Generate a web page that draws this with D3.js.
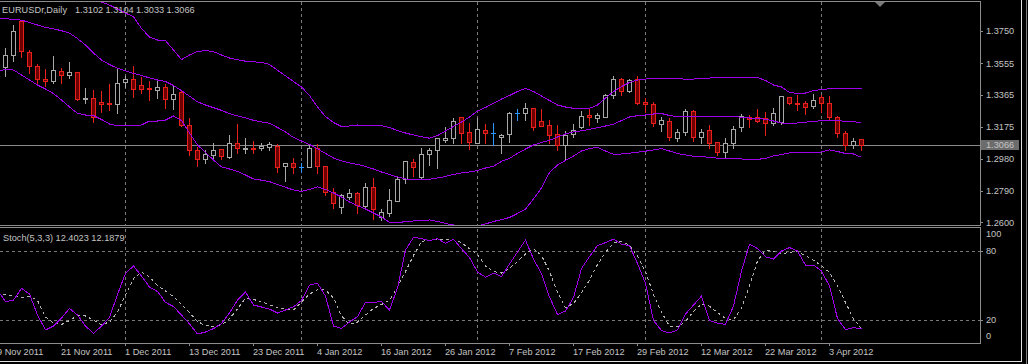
<!DOCTYPE html>
<html>
<head>
<meta charset="utf-8">
<script src="https://cdn.jsdelivr.net/npm/d3@7"></script>
<style>
  html, body { margin: 0; padding: 0; background: #000; }
  svg { display: block; }
  text { font-family: "Liberation Sans", Arial, sans-serif; font-size: 9.2px; fill: #c4c4c4; white-space: pre; }
</style>
</head>
<body>
<div id="chart"></div>
<script>
// trading days (9 Nov 2011 .. 9 Apr 2012)
let dates = ['2011-11-09','2011-11-10','2011-11-11','2011-11-14','2011-11-15','2011-11-16','2011-11-17','2011-11-18','2011-11-21','2011-11-22','2011-11-23','2011-11-24','2011-11-25','2011-11-28','2011-11-29','2011-11-30',
  '2011-12-01','2011-12-02','2011-12-05','2011-12-06','2011-12-07','2011-12-08','2011-12-09','2011-12-12','2011-12-13','2011-12-14','2011-12-15','2011-12-16','2011-12-19','2011-12-20','2011-12-21','2011-12-22','2011-12-23','2011-12-26','2011-12-27','2011-12-28','2011-12-29','2011-12-30',
  '2012-01-02','2012-01-03','2012-01-04','2012-01-05','2012-01-06','2012-01-09','2012-01-10','2012-01-11','2012-01-12','2012-01-13','2012-01-16','2012-01-17','2012-01-18','2012-01-19','2012-01-20','2012-01-23','2012-01-24','2012-01-25','2012-01-26','2012-01-27','2012-01-30','2012-01-31',
  '2012-02-01','2012-02-02','2012-02-03','2012-02-06','2012-02-07','2012-02-08','2012-02-09','2012-02-10','2012-02-13','2012-02-14','2012-02-15','2012-02-16','2012-02-17','2012-02-20','2012-02-21','2012-02-22','2012-02-23','2012-02-24','2012-02-27','2012-02-28','2012-02-29',
  '2012-03-01','2012-03-02','2012-03-05','2012-03-06','2012-03-07','2012-03-08','2012-03-09','2012-03-12','2012-03-13','2012-03-14','2012-03-15','2012-03-16','2012-03-19','2012-03-20','2012-03-21','2012-03-22','2012-03-23','2012-03-26','2012-03-27','2012-03-28','2012-03-29','2012-03-30',
  '2012-04-02','2012-04-03','2012-04-04','2012-04-05','2012-04-06','2012-04-09'];

// OHLC (first day is off the left edge, not drawn)
let open = [null,
  1.3534,1.3604,1.3810,1.3624,1.3538,1.3458,1.3450,1.3508,1.3484,1.3504,1.3338,1.3344,1.3324,1.3318,1.3310,1.3442,1.3458,1.3424,1.3406,1.3394,
  1.3410,1.3338,1.3384,1.3184,1.3034,1.2978,1.3004,1.3038,1.2990,1.3074,1.3044,1.3048,1.3044,1.3050,1.3060,1.2938,1.2954,1.2930,1.2930,1.3044,
  1.2938,1.2784,1.2690,1.2754,1.2774,1.2698,1.2810,1.2630,1.2658,1.2730,1.2860,1.2960,1.2874,1.3008,1.3034,1.3094,1.3104,1.3230,1.3140,1.3078,
  1.3154,1.3138,1.3110,1.3130,1.3254,1.3254,1.3284,1.3208,1.3184,1.3130,1.3064,1.3130,1.3174,1.3244,1.3224,1.3234,1.3364,1.3458,1.3390,1.3458,
  1.3324,1.3308,1.3190,1.3210,1.3104,1.3144,1.3270,1.3110,1.3154,1.3080,1.3024,1.3074,1.3170,1.3230,1.3230,1.3224,1.3194,1.3204,1.3354,1.3318,
  1.3314,1.3298,1.3354,1.3314,1.3234,1.3134,1.3064,1.3102];
let high = [null,
  1.3654,1.3790,1.3814,1.3638,1.3558,1.3524,1.3604,1.3534,1.3568,1.3508,1.3410,1.3398,1.3394,1.3438,1.3524,1.3484,1.3544,1.3478,1.3454,1.3454,
  1.3438,1.3424,1.3398,1.3230,1.3058,1.3038,1.3080,1.3044,1.3130,1.3194,1.3114,1.3094,1.3080,1.3088,1.3074,1.2964,1.2994,1.2964,1.3074,1.3074,
  1.2944,1.2810,1.2778,1.2804,1.2788,1.2844,1.2870,1.2684,1.2804,1.2878,1.2970,1.2984,1.3054,1.3054,1.3114,1.3178,1.3234,1.3238,1.3204,1.3234,
  1.3194,1.3200,1.3138,1.3270,1.3284,1.3324,1.3286,1.3284,1.3218,1.3190,1.3154,1.3194,1.3274,1.3290,1.3264,1.3374,1.3484,1.3474,1.3464,1.3484,
  1.3354,1.3330,1.3238,1.3230,1.3164,1.3284,1.3278,1.3164,1.3190,1.3084,1.3114,1.3184,1.3254,1.3250,1.3284,1.3270,1.3290,1.3364,1.3360,1.3368,
  1.3334,1.3374,1.3368,1.3364,1.3244,1.3154,1.3114,1.3104];
let low = [null,
  1.3478,1.3568,1.3590,1.3494,1.3424,1.3418,1.3434,1.3434,1.3464,1.3334,1.3314,1.3204,1.3262,1.3274,1.3256,1.3410,1.3354,1.3374,1.3334,1.3344,
  1.3284,1.3278,1.3178,1.3004,1.2938,1.2954,1.2984,1.2978,1.2986,1.3018,1.3014,1.3018,1.3034,1.3034,1.2904,1.2850,1.2898,1.2904,1.2930,1.2894,
  1.2764,1.2688,1.2658,1.2738,1.2654,1.2690,1.2618,1.2614,1.2638,1.2730,1.2838,1.2878,1.2868,1.2944,1.2924,1.3084,1.3074,1.3074,1.3038,1.3074,
  1.3078,1.3064,1.3018,1.3084,1.3214,1.3214,1.3154,1.3178,1.3074,1.3034,1.2974,1.3114,1.3164,1.3184,1.3204,1.3232,1.3344,1.3364,1.3384,1.3310,
  1.3264,1.3178,1.3150,1.3094,1.3090,1.3124,1.3090,1.3074,1.3044,1.3004,1.2994,1.3044,1.3150,1.3174,1.3202,1.3124,1.3184,1.3190,1.3310,1.3274,
  1.3250,1.3284,1.3264,1.3220,1.3114,1.3034,1.3044,1.3033];
let close = [null,
  1.3604,1.3750,1.3630,1.3538,1.3458,1.3450,1.3514,1.3484,1.3502,1.3338,1.3344,1.3232,1.3310,1.3310,1.3438,1.3458,1.3398,1.3398,1.3400,1.3410,
  1.3338,1.3368,1.3184,1.3034,1.2978,1.3008,1.3034,1.2998,1.3074,1.3044,1.3046,1.3042,1.3060,1.3070,1.2934,1.2954,1.2934,1.2930,1.3044,1.2938,
  1.2784,1.2714,1.2764,1.2774,1.2704,1.2810,1.2678,1.2660,1.2734,1.2860,1.2968,1.2930,1.3010,1.3034,1.3104,1.3104,1.3210,1.3138,1.3084,1.3158,
  1.3138,1.3138,1.3124,1.3254,1.3254,1.3284,1.3170,1.3180,1.3124,1.3064,1.3124,1.3154,1.3238,1.3230,1.3244,1.3364,1.3458,1.3390,1.3454,1.3318,
  1.3308,1.3198,1.3214,1.3110,1.3144,1.3270,1.3110,1.3144,1.3078,1.3024,1.3074,1.3158,1.3238,1.3218,1.3210,1.3194,1.3258,1.3358,1.3314,1.3310,
  1.3294,1.3334,1.3314,1.3230,1.3134,1.3064,1.3090,1.3066];

// Bollinger bands
let bbUpper = [1.4132,1.4120,1.4108,1.4096,1.4084,1.4066,1.4048,1.4030,1.4012,1.3994,1.3976,
  1.3958,1.3940,1.3922,1.3904,1.3880,1.3856,1.3834,1.3763,1.3712,1.3694,
  1.3690,1.3634,1.3577,1.3604,1.3625,1.3631,1.3624,1.3604,1.3586,1.3576,
  1.3567,1.3563,1.3560,1.3547,1.3513,1.3479,1.3445,1.3412,1.3361,1.3292,
  1.3235,1.3199,1.3175,1.3178,1.3184,1.3182,1.3181,1.3180,1.3169,1.3151,
  1.3136,1.3124,1.3113,1.3105,1.3121,1.3148,1.3175,1.3202,1.3232,1.3268,
  1.3289,1.3314,1.3340,1.3361,1.3385,1.3404,1.3385,1.3358,1.3331,1.3304,
  1.3292,1.3284,1.3284,1.3284,1.3304,1.3346,1.3384,1.3415,1.3439,1.3454,
  1.3460,1.3463,1.3464,1.3464,1.3464,1.3458,1.3460,1.3463,1.3466,1.3468,
  1.3468,1.3469,1.3470,1.3470,1.3469,1.3451,1.3424,1.3412,1.3379,1.3374,
  1.3376,1.3390,1.3398,1.3401,1.3403,1.3404,1.3404,1.3404];
let bbMiddle = [1.3826,1.3822,1.3818,1.3813,1.3800,1.3784,1.3770,1.3761,1.3750,1.3735,1.3703,
  1.3664,1.3616,1.3574,1.3547,1.3524,1.3509,1.3494,1.3481,1.3467,1.3454,
  1.3445,1.3421,1.3390,1.3357,1.3323,1.3304,1.3288,1.3272,1.3252,1.3239,
  1.3227,1.3212,1.3203,1.3194,1.3169,1.3142,1.3109,1.3088,1.3067,1.3042,
  1.3013,1.2986,1.2968,1.2956,1.2947,1.2935,1.2920,1.2902,1.2887,1.2872,
  1.2860,1.2858,1.2858,1.2858,1.2866,1.2875,1.2887,1.2896,1.2902,1.2910,
  1.2926,1.2936,1.2966,1.2983,1.3014,1.3040,1.3064,1.3079,1.3092,1.3112,
  1.3130,1.3142,1.3149,1.3158,1.3168,1.3178,1.3189,1.3211,1.3232,1.3240,
  1.3244,1.3250,1.3253,1.3241,1.3234,1.3234,1.3234,1.3234,1.3234,1.3234,
  1.3234,1.3234,1.3231,1.3226,1.3224,1.3218,1.3208,1.3196,1.3194,1.3196,
  1.3201,1.3205,1.3210,1.3214,1.3211,1.3206,1.3203,1.3200];
let bbLower = [1.3508,1.3517,1.3514,1.3484,1.3454,1.3424,1.3400,1.3373,1.3334,1.3292,1.3254,
  1.3244,1.3241,1.3217,1.3190,1.3180,1.3181,1.3182,1.3184,1.3208,1.3208,
  1.3214,1.3238,1.3211,1.3136,1.3064,1.3019,1.2974,1.2932,1.2920,1.2905,
  1.2884,1.2860,1.2853,1.2844,1.2827,1.2810,1.2794,1.2785,1.2797,1.2813,
  1.2797,1.2776,1.2752,1.2722,1.2700,1.2680,1.2656,1.2632,1.2599,1.2598,
  1.2604,1.2608,1.2611,1.2614,1.2605,1.2593,1.2584,1.2578,1.2575,1.2578,
  1.2590,1.2605,1.2616,1.2629,1.2653,1.2680,1.2740,1.2806,1.2899,1.2944,
  1.2971,1.2998,1.3028,1.3043,1.3049,1.3028,1.3008,1.3010,1.3015,1.3021,
  1.3027,1.3034,1.3043,1.3028,1.3013,1.3004,1.2996,1.2994,1.2990,1.2985,
  1.2983,1.2982,1.2980,1.2978,1.2978,1.2983,1.2998,1.3007,1.3017,1.3018,
  1.3020,1.3020,1.3022,1.3034,1.3025,1.3013,1.3010,1.2990];

// Stochastic (5,3,3)
let stochK = [45.9,35.8,37.2,47.4,42.4,24.2,11.3,14.7,21.6,30.0,24.2,
  14.7,8.4,14.7,22.1,42.0,60.3,66.7,58.0,48.5,44.6,
  35.2,31.6,24.2,16.5,7.8,9.5,12.5,16.9,26.0,37.2,
  44.2,32.9,31.2,29.4,26.0,28.6,31.4,36.8,50.2,51.7,
  40.7,14.7,12.7,18.2,22.9,35.2,35.2,35.9,28.6,47.6,
  80.5,91.5,90.5,88.7,90.5,86.3,89.8,81.8,74.0,61.5,
  57.1,60.6,57.6,68.4,78.8,89.2,72.7,60.2,39.8,24.7,
  27.7,39.4,64.5,74.9,84.4,87.0,90.0,85.7,84.4,68.8,
  51.7,19.5,10.8,8.7,11.3,25.1,32.9,40.7,19.5,17.1,
  16.2,32.0,62.3,85.7,81.8,74.7,72.7,79.7,82.7,79.7,
  67.5,67.5,62.3,49.4,21.2,11.7,13.2,12.4023];
let stochD = [43.3,42.0,40.7,39.4,40.7,36.8,22.5,17.3,16.0,19.5,23.8,
  23.4,19.9,15.8,18.2,26.8,41.6,55.8,61.7,57.1,50.0,
  45.0,40.3,33.3,26.4,18.6,15.1,14.1,15.4,21.2,29.4,
  39.0,37.7,35.9,32.9,30.7,29.4,28.6,35.5,42.4,46.3,
  45.9,39.0,23.4,16.0,18.2,24.2,29.9,33.3,37.0,48.5,
  61.9,75.8,87.9,89.2,89.5,90.0,89.5,87.0,81.6,76.6,
  66.7,61.9,60.6,64.9,70.6,77.1,81.8,75.8,61.9,43.7,
  30.7,34.2,43.3,54.5,68.0,78.4,87.0,88.1,84.8,75.3,
  61.9,42.0,26.8,14.7,14.0,18.6,27.3,33.8,31.9,26.4,
  21.2,20.3,30.3,49.4,71.0,80.5,79.4,76.9,78.8,79.0,
  75.8,71.6,67.2,61.0,49.4,35.1,21.0,12.1879];

// axis labels
let priceTicks = [1.3750, 1.3555, 1.3365, 1.3175, 1.2980, 1.2790, 1.2600];
let stochTicks = [100, 80, 20, 0];
let dateTicks = ['2011-11-09','2011-11-21','2011-12-01','2011-12-13','2011-12-23','2012-01-04','2012-01-16','2012-01-26','2012-02-07','2012-02-17','2012-02-29','2012-03-12','2012-03-22','2012-04-03'];
let monthStarts = ['2011-12-01','2012-01-02','2012-02-01','2012-03-01','2012-04-02'];
let headerValues = ['1.3102', '1.3104', '1.3033', '1.3066'];
let bid = 1.3066;

// sizes
let svg_width = 1028;
let svg_height = 364;
let plot_right = 980;
let main_top = 1, main_bottom = 225;
let sub_top = 228, sub_bottom = 343;

let gray = '#8c8c8c';
let purple = '#9d00e8';
let bullColor = '#a8a8a8';
let bearColor = '#e8201c';
let bearFill = '#6e0000';
let dojiColor = '#2a96ff';

let svg = d3.select('#chart').append('svg')
  .attr('width', svg_width)
  .attr('height', svg_height);

svg.append('rect').attr('width', svg_width).attr('height', svg_height).attr('fill', '#000');

// scales
let x = d3.scalePoint().domain(dates).range([-3, -3 + 8 * (dates.length - 1)]);
let y = d3.scaleLinear().domain([1.2600, 1.3750]).range([222.3, 30.7]);
let ys = d3.scaleLinear().domain([0, 100]).range([sub_bottom, 227.6]);
let snap = v => Math.round(v) + 0.5;

let defs = svg.append('defs');
defs.append('clipPath').attr('id', 'clipMain')
  .append('rect').attr('x', 0).attr('y', main_top + 1).attr('width', plot_right).attr('height', main_bottom - main_top - 1);
defs.append('clipPath').attr('id', 'clipSub')
  .append('rect').attr('x', 0).attr('y', sub_top + 1).attr('width', plot_right).attr('height', sub_bottom - sub_top - 1);

// month grid lines (both panels)
let grid = svg.append('g').attr('stroke', '#7a7a7a').attr('stroke-dasharray', '3,3').attr('shape-rendering', 'crispEdges');
monthStarts.forEach(d => {
  grid.append('line').attr('x1', snap(x(d))).attr('x2', snap(x(d))).attr('y1', main_top + 1).attr('y2', main_bottom);
  grid.append('line').attr('x1', snap(x(d))).attr('x2', snap(x(d))).attr('y1', sub_top + 1).attr('y2', sub_bottom);
});
[80, 20].forEach(v => {
  grid.append('line').attr('x1', 0).attr('x2', plot_right).attr('y1', snap(ys(v))).attr('y2', snap(ys(v)));
});

// bid line
svg.append('line')
  .attr('x1', 0).attr('x2', plot_right)
  .attr('y1', snap(y(bid))).attr('y2', snap(y(bid)))
  .attr('stroke', '#8a8a8a').attr('shape-rendering', 'crispEdges');

// main panel
let main = svg.append('g').attr('clip-path', 'url(#clipMain)');

let bars = dates.map((d, i) => ({date: d, o: open[i], h: high[i], l: low[i], c: close[i]}))
  .filter(d => d.o !== null);

let candle = main.selectAll('.candle').data(bars).enter().append('g')
  .attr('shape-rendering', 'crispEdges');

candle.append('line')
  .attr('x1', d => x(d.date) + 0.5).attr('x2', d => x(d.date) + 0.5)
  .attr('y1', d => snap(y(d.h))).attr('y2', d => snap(y(d.l)))
  .attr('stroke', d => d.o === d.c ? dojiColor : (d.c > d.o ? bullColor : bearColor));

candle.filter(d => d.o !== d.c).append('rect')
  .attr('x', d => x(d.date) - 1.5)
  .attr('y', d => snap(y(Math.max(d.o, d.c))))
  .attr('width', 4)
  .attr('height', d => Math.max(1, Math.round(y(Math.min(d.o, d.c))) - Math.round(y(Math.max(d.o, d.c)))))
  .attr('fill', d => d.c > d.o ? '#000' : bearFill)
  .attr('stroke', d => d.c > d.o ? bullColor : bearColor);

candle.filter(d => d.o === d.c).append('line')
  .attr('x1', d => x(d.date) - 2).attr('x2', d => x(d.date) + 3)
  .attr('y1', d => snap(y(d.o))).attr('y2', d => snap(y(d.o)))
  .attr('stroke', dojiColor);

// bollinger bands
[bbUpper, bbMiddle, bbLower].forEach(band => {
  let line = d3.line().x((v, i) => x(dates[i]) + 0.5).y(v => y(v));
  main.append('path')
    .attr('d', line(band))
    .attr('fill', 'none')
    .attr('stroke', purple)
    .attr('stroke-width', 1)
    .attr('shape-rendering', 'crispEdges');
});

// stochastic panel
let sub = svg.append('g').attr('clip-path', 'url(#clipSub)');
let sLine = d3.line().x((v, i) => x(dates[i]) + 0.5).y(v => ys(v));
sub.append('path').attr('d', sLine(stochD))
  .attr('fill', 'none').attr('stroke', '#b4b4b4').attr('stroke-dasharray', '3,3').attr('stroke-width', 1)
  .attr('shape-rendering', 'crispEdges');
sub.append('path').attr('d', sLine(stochK))
  .attr('fill', 'none').attr('stroke', purple).attr('stroke-width', 1)
  .attr('shape-rendering', 'crispEdges');

// frames
let frame = svg.append('g').attr('stroke', gray).attr('fill', 'none').attr('shape-rendering', 'crispEdges');
frame.append('line').attr('x1', 0).attr('x2', plot_right + 0.5).attr('y1', main_top + 0.5).attr('y2', main_top + 0.5);
frame.append('line').attr('x1', 0).attr('x2', plot_right + 0.5).attr('y1', main_bottom + 0.5).attr('y2', main_bottom + 0.5);
frame.append('line').attr('x1', 0).attr('x2', plot_right + 0.5).attr('y1', sub_top - 0.5).attr('y2', sub_top - 0.5);
frame.append('line').attr('x1', 0).attr('x2', plot_right + 0.5).attr('y1', sub_bottom + 0.5).attr('y2', sub_bottom + 0.5);
frame.append('line').attr('x1', plot_right + 0.5).attr('x2', plot_right + 0.5).attr('y1', main_top).attr('y2', main_bottom + 1);
frame.append('line').attr('x1', plot_right + 0.5).attr('x2', plot_right + 0.5).attr('y1', sub_top - 1).attr('y2', sub_bottom + 1);

// shift marker
svg.append('path')
  .attr('d', d3.line()([[875, 2], [885, 2], [880, 7]]))
  .attr('fill', '#7a7a7a');

// price axis
let priceAxis = d3.axisRight(y).tickValues(priceTicks).tickSize(3).tickPadding(3).tickFormat(d3.format('.4f'));
let pa = svg.append('g').attr('transform', `translate(${plot_right},0)`).call(priceAxis);
pa.select('.domain').remove();
pa.selectAll('line').attr('stroke', gray).attr('shape-rendering', 'crispEdges');
pa.selectAll('text').attr('fill', '#c4c4c4').attr('font-size', null).attr('font-family', null);

// bid label
svg.append('rect')
  .attr('x', plot_right + 1).attr('y', Math.round(y(bid)) - 5)
  .attr('width', 38).attr('height', 10)
  .attr('fill', '#6c6c6c');
svg.append('text')
  .attr('x', plot_right + 6).attr('y', y(bid))
  .attr('dy', '0.35em')
  .attr('fill', '#e6e6e6')
  .text(d3.format('.4f')(bid));

// stochastic axis
let stochLabelY = {100: ys(100) + 6.5, 80: ys(80), 20: ys(20), 0: ys(0) - 7};
let sa = svg.append('g');
stochTicks.forEach(v => {
  if (v === 80 || v === 20) {
    sa.append('line').attr('x1', plot_right).attr('x2', plot_right + 3)
      .attr('y1', snap(ys(v))).attr('y2', snap(ys(v)))
      .attr('stroke', gray).attr('shape-rendering', 'crispEdges');
  }
  sa.append('text').attr('x', plot_right + 6).attr('y', stochLabelY[v]).attr('dy', '0.35em').text(v);
});

// date axis
let fmt = d3.timeFormat('%-d %b %Y');
let parse = d3.timeParse('%Y-%m-%d');
let dateAxis = d3.axisBottom(x).tickValues(dateTicks).tickSize(3).tickFormat(d => fmt(parse(d)));
let da = svg.append('g').attr('transform', `translate(0,${sub_bottom})`).call(dateAxis);
da.select('.domain').remove();
da.selectAll('line').attr('stroke', gray).attr('shape-rendering', 'crispEdges');
da.selectAll('text')
  .attr('text-anchor', 'start')
  .attr('x', -0.5)
  .attr('y', 12)
  .attr('dy', null)
  .attr('fill', '#c4c4c4').attr('font-size', null).attr('font-family', null);

// headers
svg.append('text').attr('x', 2).attr('y', 13).attr('textLength', 65).text('EURUSDr,Daily');
headerValues.forEach((v, i) => {
  svg.append('text').attr('x', 75 + i * 30.5).attr('y', 13).text(v);
});
svg.append('text').attr('x', 3).attr('y', 240.5).text('Stoch(5,3,3) 12.4023 12.1879');

// window edge
svg.append('line').attr('x1', 0).attr('x2', 1022).attr('y1', 361.5).attr('y2', 361.5)
  .attr('stroke', '#e0e0e0').attr('shape-rendering', 'crispEdges');
svg.append('line').attr('x1', 1021.5).attr('x2', 1021.5).attr('y1', 0).attr('y2', 362)
  .attr('stroke', '#e0e0e0').attr('shape-rendering', 'crispEdges');
svg.append('line').attr('x1', 1026.5).attr('x2', 1026.5).attr('y1', 0).attr('y2', 364)
  .attr('stroke', '#808080').attr('shape-rendering', 'crispEdges');
</script>
</body>
</html>
